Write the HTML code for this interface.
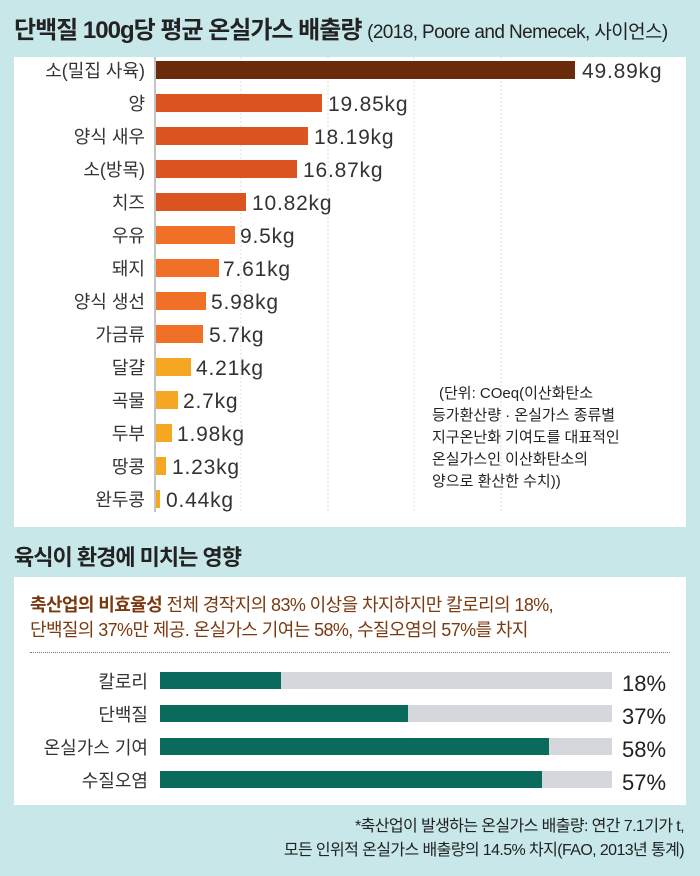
<!DOCTYPE html>
<html><head><meta charset="utf-8"><style>
body{margin:0;width:700px;height:876px;background:#c8e7e9;font-family:"Liberation Sans","Noto Sans CJK KR",sans-serif;position:relative;overflow:hidden;color:#222}
.a{position:absolute;white-space:nowrap}
</style></head><body>
<div class="a" style="left:14px;top:10px;font-size:24px;font-weight:bold;letter-spacing:-1px">단백질 100g당 평균 온실가스 배출량 <span style="font-weight:normal;font-size:19px;letter-spacing:-0.6px">(2018, Poore and Nemecek, 사이언스)</span></div>
<div class="a" style="left:14px;top:57px;width:672px;height:470px;background:#fff"></div>
<svg class="a" style="left:0;top:0" width="700" height="530" font-family="Liberation Sans, Noto Sans CJK KR, sans-serif">
<g stroke="#ddd" stroke-dasharray="2,2"><line x1="241" y1="57" x2="241" y2="512"/><line x1="328" y1="57" x2="328" y2="512"/><line x1="414" y1="57" x2="414" y2="512"/><line x1="501" y1="57" x2="501" y2="512"/></g>
<line x1="155" y1="57" x2="155" y2="512" stroke="#888"/>
<g font-size="18" fill="#333">
<g text-anchor="end">
<text x="145" y="77">소(밀집 사육)</text><text x="145" y="110">양</text><text x="145" y="143">양식 새우</text><text x="145" y="176">소(방목)</text><text x="145" y="209">치즈</text><text x="145" y="242">우유</text><text x="145" y="275">돼지</text><text x="145" y="308">양식 생선</text><text x="145" y="341">가금류</text><text x="145" y="374">달걀</text><text x="145" y="407">곡물</text><text x="145" y="440">두부</text><text x="145" y="473">땅콩</text><text x="145" y="506">완두콩</text>
</g>
<rect x="156" y="61" width="419" height="18" fill="#6b2a0a"/>
<rect x="156" y="94" width="166" height="18" fill="#db5422"/>
<rect x="156" y="127" width="152" height="18" fill="#db5422"/>
<rect x="156" y="160" width="141" height="18" fill="#db5422"/>
<rect x="156" y="193" width="90" height="18" fill="#db5422"/>
<rect x="156" y="226" width="79" height="18" fill="#f07028"/>
<rect x="156" y="259" width="63" height="18" fill="#f07028"/>
<rect x="156" y="292" width="50" height="18" fill="#f07028"/>
<rect x="156" y="325" width="47" height="18" fill="#f07028"/>
<rect x="156" y="358" width="35" height="18" fill="#f5a623"/>
<rect x="156" y="391" width="22" height="18" fill="#f5a623"/>
<rect x="156" y="424" width="16" height="18" fill="#f5a623"/>
<rect x="156" y="457" width="10" height="18" fill="#f5a623"/>
<rect x="156" y="490" width="4" height="18" fill="#f5a623"/>
<g font-size="21" letter-spacing="0.8">
<text x="582" y="78">49.89kg</text><text x="328" y="111">19.85kg</text><text x="314" y="144">18.19kg</text><text x="303" y="177">16.87kg</text><text x="252" y="210">10.82kg</text><text x="240" y="243">9.5kg</text><text x="223" y="276">7.61kg</text><text x="211" y="309">5.98kg</text><text x="209" y="342">5.7kg</text><text x="196" y="375">4.21kg</text><text x="183" y="408">2.7kg</text><text x="177" y="441">1.98kg</text><text x="172" y="474">1.23kg</text><text x="166" y="507">0.44kg</text>
</g>
</g>
<g font-size="15" fill="#222"><text x="439" y="398">(단위: COeq(이산화탄소</text><text x="432" y="420">등가환산량 · 온실가스 종류별</text><text x="432" y="442">지구온난화 기여도를 대표적인</text><text x="432" y="464">온실가스인 이산화탄소의</text><text x="432" y="486">양으로 환산한 수치))</text></g>
</svg>
<div class="a" style="left:14px;top:540px;font-size:22px;font-weight:bold;letter-spacing:-1px">육식이 환경에 미치는 영향</div>
<div class="a" style="left:14px;top:577px;width:672px;height:228px;background:#fff"></div>
<div class="a" style="left:30px;top:593px;font-size:18px;line-height:25px;color:#7a3a10;letter-spacing:-0.6px"><b>축산업의 비효율성</b> 전체 경작지의 83% 이상을 차지하지만 칼로리의 18%,<br>단백질의 37%만 제공. 온실가스 기여는 58%, 수질오염의 57%를 차지</div>
<div class="a" style="left:30px;top:652px;width:640px;border-top:1px dotted #777"></div>
<svg class="a" style="left:0;top:660px" width="700" height="140" font-family="Liberation Sans, Noto Sans CJK KR, sans-serif">
<g fill="#d4d8dd"><rect x="160" y="12" width="452" height="17"/><rect x="160" y="45" width="452" height="17"/><rect x="160" y="78" width="452" height="17"/><rect x="160" y="111" width="452" height="17"/></g>
<g fill="#0a6a5c"><rect x="160" y="12" width="121" height="17"/><rect x="160" y="45" width="248" height="17"/><rect x="160" y="78" width="389" height="17"/><rect x="160" y="111" width="382" height="17"/></g>
<g font-size="18" fill="#333" text-anchor="end"><text x="148" y="28">칼로리</text><text x="148" y="61">단백질</text><text x="148" y="94">온실가스 기여</text><text x="148" y="127">수질오염</text></g>
<g font-size="22" fill="#222"><text x="622" y="31">18%</text><text x="622" y="64">37%</text><text x="622" y="97">58%</text><text x="622" y="130">57%</text></g>
</svg>
<div class="a" style="right:16px;top:815px;font-size:16px;line-height:24px;text-align:right;letter-spacing:-0.6px">*축산업이 발생하는 온실가스 배출량: 연간 7.1기가 t,<br>모든 인위적 온실가스 배출량의 14.5% 차지(FAO, 2013년 통계)</div>
</body></html>
